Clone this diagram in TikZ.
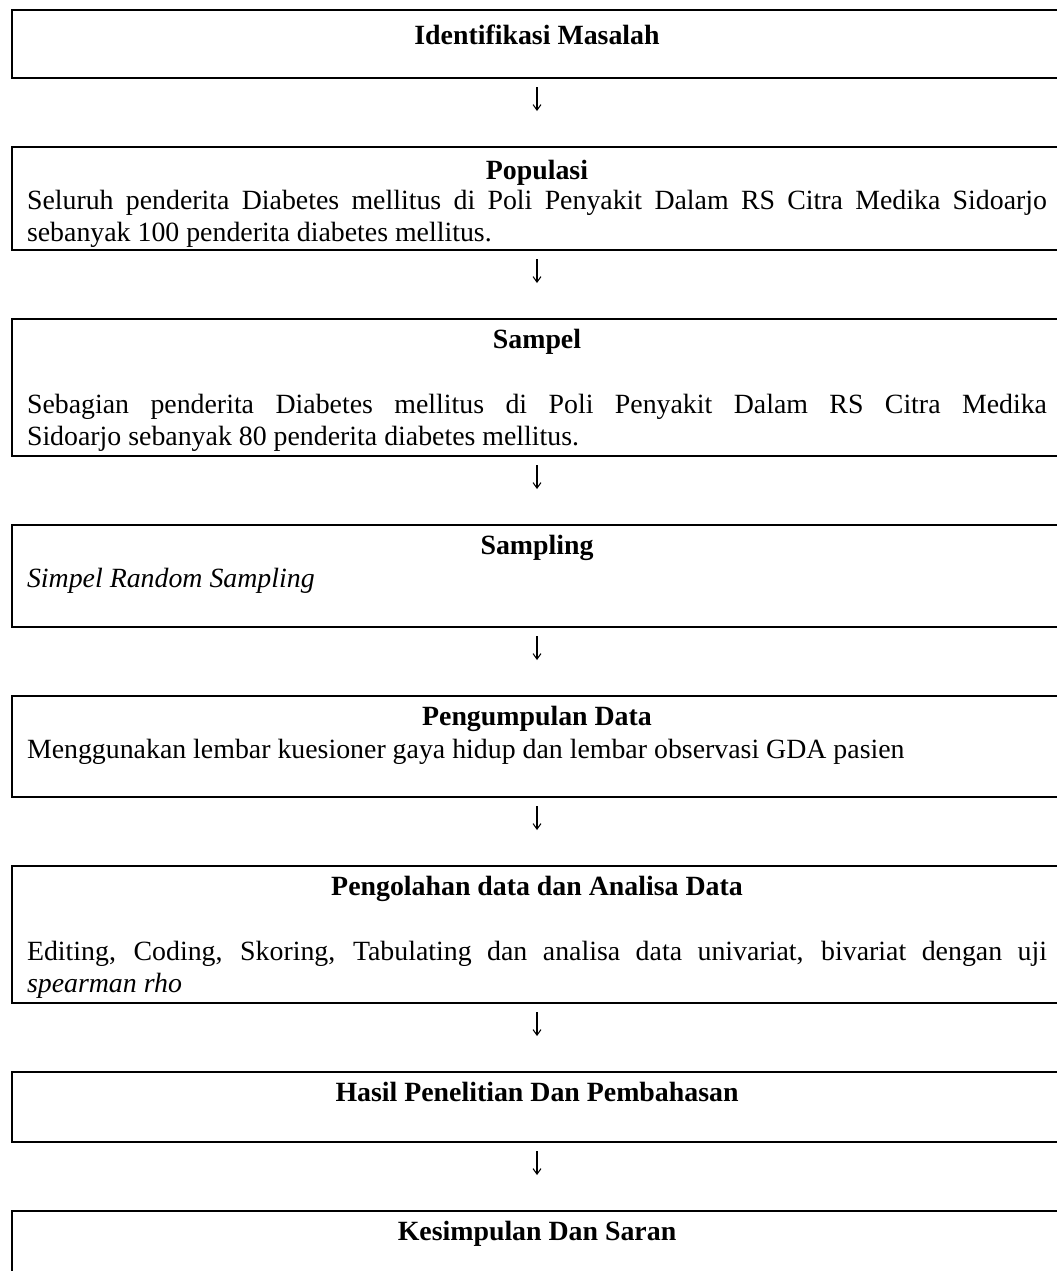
\documentclass[tikz,border=0pt]{standalone}
\usepackage{fontspec}
\setmainfont{Liberation Serif}
\usetikzlibrary{positioning,arrows.meta}

\newcommand{\boxhead}[2][12.9pt]{{\centering\rule{0pt}{#1}\textbf{#2}\par}}
\newcommand{\blankline}{\mbox{}\par}
\newcommand{\boxbody}[2]{\parbox[t][#1][t]{439.6pt}{\fontsize{12}{13.9}\selectfont #2}}

\begin{document}
\begin{tikzpicture}[x=0.431pt,y=-0.431pt,node distance=29.74pt,
    stage/.style={draw,line width=0.6pt,rectangle,inner xsep=6.5pt,inner ysep=0pt,outer sep=0pt},
    flow/.style={-{Straight Barb[length=2.4pt,width=3.4pt]},line width=0.45pt,shorten <=3.9pt,shorten >=15.5pt}]
    \useasboundingbox (0,0) rectangle (1057,1271);
    \clip (0,0) rectangle (1057,1271);

    \node[stage,anchor=north] (masalah) at (537,10)
        {\boxbody{29.31pt}{\boxhead[15pt]{Identifikasi Masalah}\blankline}};
    \node[stage,below=of masalah] (populasi)
        {\boxbody{44.39pt}{\boxhead[13.8pt]{Populasi}\vspace{-0.9pt}Seluruh penderita Diabetes mellitus di Poli Penyakit Dalam RS Citra Medika Sidoarjo\linebreak sebanyak 100 penderita diabetes mellitus.\par}};
    \node[stage,below=of populasi] (sampel)
        {\boxbody{59.05pt}{\boxhead{Sampel}\blankline Sebagian penderita Diabetes mellitus di Poli Penyakit Dalam RS Citra Medika\linebreak Sidoarjo sebanyak 80 penderita diabetes mellitus.\par}};
    \node[stage,below=of sampel] (sampling)
        {\boxbody{43.96pt}{\boxhead{Sampling}\textit{Simpel Random Sampling}\par\blankline}};
    \node[stage,below=of sampling] (pengumpulan)
        {\boxbody{43.53pt}{\boxhead{Pengumpulan Data}Menggunakan lembar kuesioner gaya hidup dan lembar observasi GDA pasien\par\blankline}};
    \node[stage,below=of pengumpulan] (pengolahan)
        {\boxbody{59.05pt}{\boxhead{Pengolahan data dan Analisa Data}\blankline Editing, Coding, Skoring, Tabulating dan analisa data univariat, bivariat dengan uji\linebreak \textit{spearman rho}\par}};
    \node[stage,below=of pengolahan] (hasil)
        {\boxbody{30.17pt}{\boxhead{Hasil Penelitian Dan Pembahasan}\blankline}};
    \node[stage,below=of hasil] (kesimpulan)
        {\boxbody{51.7pt}{\boxhead{Kesimpulan Dan Saran}\blankline\blankline}};

    % arrows between stages
    \draw[flow] (masalah) -- (populasi);
    \draw[flow] (populasi) -- (sampel);
    \draw[flow] (sampel) -- (sampling);
    \draw[flow] (sampling) -- (pengumpulan);
    \draw[flow] (pengumpulan) -- (pengolahan);
    \draw[flow] (pengolahan) -- (hasil);
    \draw[flow] (hasil) -- (kesimpulan);
\end{tikzpicture}
\end{document}
